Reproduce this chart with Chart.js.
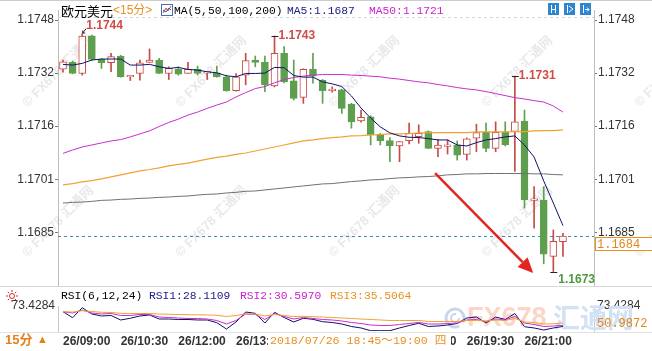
<!DOCTYPE html>
<html>
<head>
<meta charset="utf-8">
<script src="https://cdn.jsdelivr.net/npm/chart.js@4/dist/chart.umd.min.js"></script>
<style>
html, body { margin: 0; padding: 0; background: #fff; }
#wrap { position: relative; width: 652px; height: 351px; overflow: hidden; }
#main { position: absolute; left: 0; top: 0; }
#rsi { position: absolute; left: 0; top: 287px; }
</style>
</head>
<body>
<div id="wrap">
  <canvas id="main" width="652" height="287"></canvas>
  <canvas id="rsi" width="652" height="64"></canvas>
</div>
<script>
// 15 min candles, EUR/USD, 26/09:00 onwards
const timeLabels = ['26/09:00', '26/10:30', '26/12:00', '26/13:30', '26/15:00', '26/16:30', '26/18:00', '26/19:30', '26/21:00'];
const timeTickIdx = [0, 6, 12, 18, 24, 30, 36, 42, 48];
const priceTicks = [1.1748, 1.17322, 1.17164, 1.17006, 1.16848];

const opens = [1.17334, 1.17354, 1.17321, 1.17433, 1.17363, 1.17353, 1.17373, 1.17311, 1.17321, 1.17354,
  1.17361, 1.17321, 1.17334, 1.17321, 1.17333, 1.17322, 1.17323, 1.17311, 1.17270, 1.17316,
  1.17361, 1.17354, 1.17284, 1.17381, 1.17299, 1.17250, 1.17334, 1.17301, 1.17270, 1.17272,
  1.17230, 1.17180, 1.17192, 1.17140, 1.17121, 1.17105, 1.17121, 1.17133, 1.17148, 1.17098,
  1.17104, 1.17108, 1.17080, 1.17128, 1.17146, 1.17098, 1.17146, 1.17148, 1.17179, 1.16943,
  1.16944, 1.16776, 1.16820];
const closes = [1.17356, 1.17321, 1.17432, 1.17363, 1.17353, 1.17371, 1.17311, 1.17313, 1.17353, 1.17361,
  1.17321, 1.17336, 1.17319, 1.17333, 1.17321, 1.17324, 1.17311, 1.17270, 1.17311, 1.17359,
  1.17354, 1.17287, 1.17381, 1.17296, 1.17247, 1.17333, 1.17313, 1.17270, 1.17272, 1.17217,
  1.17177, 1.17190, 1.17138, 1.17121, 1.17105, 1.17118, 1.17143, 1.17143, 1.17098, 1.17108,
  1.17105, 1.17078, 1.17126, 1.17145, 1.17098, 1.17146, 1.17108, 1.17177, 1.16944, 1.16945,
  1.16783, 1.16821, 1.16837];
const highs = [1.17361, 1.17358, 1.17440, 1.17435, 1.17365, 1.17381, 1.17375, 1.17315, 1.17361, 1.17394,
  1.17366, 1.17341, 1.17341, 1.17354, 1.17343, 1.17324, 1.17343, 1.17316, 1.17321, 1.17381,
  1.17373, 1.17373, 1.17433, 1.17401, 1.17361, 1.17335, 1.17381, 1.17303, 1.17281, 1.17274,
  1.17232, 1.17212, 1.17195, 1.17142, 1.17130, 1.17118, 1.17173, 1.17168, 1.17150, 1.17125,
  1.17123, 1.17120, 1.17129, 1.17170, 1.17173, 1.17177, 1.17177, 1.17313, 1.17212, 1.16984,
  1.16984, 1.16855, 1.16845];
const lows = [1.17325, 1.17320, 1.17316, 1.17360, 1.17336, 1.17326, 1.17310, 1.17300, 1.17301, 1.17354,
  1.17321, 1.17303, 1.17316, 1.17321, 1.17316, 1.17303, 1.17310, 1.17268, 1.17268, 1.17287,
  1.17341, 1.17267, 1.17281, 1.17293, 1.17242, 1.17232, 1.17292, 1.17232, 1.17265, 1.17202,
  1.17158, 1.17176, 1.17108, 1.17108, 1.17058, 1.17058, 1.17111, 1.17113, 1.17097, 1.17073,
  1.17081, 1.17063, 1.17063, 1.17088, 1.17088, 1.17088, 1.17105, 1.17029, 1.16920, 1.16860,
  1.16754, 1.16731, 1.16776];

const ma5 = [1.17348, 1.17346, 1.17351, 1.17361, 1.17364, 1.17364, 1.17364, 1.17346, 1.17346, 1.17348,
  1.17341, 1.17336, 1.17339, 1.17333, 1.17331, 1.17326, 1.17323, 1.17314, 1.17311, 1.17321,
  1.17321, 1.17322, 1.17339, 1.17338, 1.17315, 1.17310, 1.17310, 1.17296, 1.17290, 1.17282,
  1.17254, 1.17218, 1.17188, 1.17162, 1.17144, 1.17135, 1.17131, 1.17130, 1.17127, 1.17123,
  1.17123, 1.17108, 1.17105, 1.17115, 1.17123, 1.17127, 1.17132, 1.17135, 1.17108, 1.17072,
  1.17001, 1.16935, 1.16868];
const ma50 = [1.17083, 1.17093, 1.17102, 1.17108, 1.17114, 1.17120, 1.17124, 1.17132, 1.17141, 1.17150,
  1.17163, 1.17175, 1.17185, 1.17197, 1.17206, 1.17217, 1.17227, 1.17236, 1.17251, 1.17264,
  1.17276, 1.17282, 1.17293, 1.17303, 1.17309, 1.17313, 1.17316, 1.17318, 1.17318, 1.17318,
  1.17316, 1.17315, 1.17313, 1.17311, 1.17307, 1.17304, 1.17300, 1.17296, 1.17293, 1.17288,
  1.17284, 1.17279, 1.17275, 1.17272, 1.17267, 1.17261, 1.17255, 1.17249, 1.17245, 1.17240,
  1.17236, 1.17224, 1.17206];
const ma100 = [1.16989, 1.16993, 1.16998, 1.17002, 1.17007, 1.17013, 1.17019, 1.17025, 1.17031, 1.17035,
  1.17040, 1.17046, 1.17050, 1.17054, 1.17060, 1.17066, 1.17071, 1.17075, 1.17080, 1.17084,
  1.17090, 1.17096, 1.17102, 1.17108, 1.17114, 1.17120, 1.17123, 1.17127, 1.17130, 1.17132,
  1.17135, 1.17136, 1.17138, 1.17139, 1.17141, 1.17141, 1.17142, 1.17144, 1.17144, 1.17145,
  1.17145, 1.17145, 1.17145, 1.17147, 1.17147, 1.17147, 1.17147, 1.17148, 1.17148, 1.17150,
  1.17151, 1.17151, 1.17153];
const ma200 = [1.16935, 1.16937, 1.16938, 1.16940, 1.16943, 1.16944, 1.16946, 1.16947, 1.16949, 1.16950,
  1.16952, 1.16953, 1.16955, 1.16956, 1.16959, 1.16961, 1.16962, 1.16965, 1.16967, 1.16970,
  1.16971, 1.16974, 1.16977, 1.16980, 1.16983, 1.16986, 1.16989, 1.16992, 1.16993, 1.16996,
  1.16999, 1.17001, 1.17004, 1.17005, 1.17008, 1.17010, 1.17011, 1.17013, 1.17014, 1.17016,
  1.17019, 1.17020, 1.17022, 1.17022, 1.17023, 1.17023, 1.17023, 1.17023, 1.17023, 1.17022,
  1.17022, 1.17020, 1.17019];

const rsi1 = [60.8, 47.5, 69.7, 55.7, 51.3, 52.4, 42.4, 46.2, 51.3, 53.5,
  44.6, 44.6, 43.5, 43.5, 42.4, 42.4, 36.4, 22.4, 38.0, 60.1,
  57.2, 35.7, 59.5, 47.9, 38.0, 46.2, 43.9, 38.6, 36.9, 33.5,
  28.0, 24.7, 18.7, 18.7, 18.7, 24.7, 30.2, 35.1, 28.0, 29.1,
  31.3, 34.6, 46.8, 49.0, 35.7, 49.0, 43.5, 56.8, 27.5, 24.7,
  20.2, 24.7, 28.1109];
const rsi2 = [60.8, 57.9, 64.6, 57.9, 55.7, 56.8, 52.4, 52.4, 54.6, 54.6,
  49.0, 47.9, 46.8, 45.7, 45.7, 44.6, 41.3, 33.5, 41.3, 55.7,
  54.6, 43.5, 56.8, 50.2, 44.6, 47.9, 45.7, 43.5, 42.4, 40.2,
  36.9, 34.6, 31.3, 30.2, 30.2, 32.4, 34.6, 36.9, 33.5, 33.5,
  34.6, 35.7, 42.4, 43.5, 39.1, 44.6, 42.4, 50.2, 35.7, 32.4,
  28.0, 29.1, 30.5970];
const rsi3 = [60.8, 60.1, 63.0, 61.2, 59.5, 59.0, 57.2, 56.8, 56.8, 56.8,
  55.7, 55.0, 54.6, 54.1, 53.9, 53.5, 52.8, 50.2, 52.4, 55.7,
  55.7, 51.3, 54.6, 52.4, 50.2, 50.6, 49.7, 49.0, 47.9, 46.8,
  45.7, 44.6, 43.5, 42.4, 41.3, 41.3, 41.3, 41.3, 39.1, 39.1,
  39.1, 39.1, 41.3, 41.3, 40.2, 42.4, 41.3, 45.7, 38.0, 36.9,
  33.5, 34.0, 35.5064];
const rsiTicks = [73.4284];
const rsiSide = 50.9872;

const highMarks = [2, 22, 47];
const lowMarks = [51];
const arrowFrom = [38.7, 1.17024];
const arrowTo = [48.9, 1.16727];

Chart.defaults.font.family = '"Liberation Sans", "Noto Sans CJK SC", sans-serif';

const N = opens.length;
const idx = opens.map((_, i) => i);
const up = idx.map(i => closes[i] >= opens[i]);
const RED = '#c54b45', GREEN = '#5e9f4f';
const candleColor = up.map(u => u ? RED : GREEN);
const X_MIN = -0.52, X_MAX = 55.23;
const MONO = '"Liberation Mono", "Noto Sans CJK SC", monospace';
const ORANGE = '#e8901e';

function zeroPad(s) {
  s.paddingTop = 0; s.paddingBottom = 0; s.paddingLeft = 0; s.paddingRight = 0;
}
const pts = arr => idx.map(i => ({x: i, y: arr[i]}));

function priceAxis(pos) {
  return {
    type: 'linear', position: pos, min: 1.16685, max: 1.17510,
    afterBuildTicks: s => { s.ticks = priceTicks.map(v => ({value: v})); },
    afterFit: s => { s.width = 58; zeroPad(s); },
    ticks: {autoSkip: false, padding: 1, color: '#333', font: {size: 12}, callback: v => v.toFixed(4)},
    grid: {drawOnChartArea: false, drawTicks: true, tickLength: 3, tickColor: '#777'},
    border: {display: true, color: '#bdbdbd', dash: [1, 2]}
  };
}

const mainDecor = {
  id: 'mainDecor',
  beforeDatasetsDraw(chart) {
    const ctx = chart.ctx, y = chart.scales.y, area = chart.chartArea;
    ctx.save();
    ctx.font = 'bold 13px "Liberation Sans", "Noto Sans CJK SC"';
    ctx.fillStyle = 'rgba(150,150,150,0.22)';
    ctx.textBaseline = 'middle';
    [105, 255].forEach(wy => [25, 178, 331, 484, 637].forEach(wx => {
      ctx.save();
      ctx.translate(wx, wy);
      ctx.rotate(-Math.PI / 4);
      ctx.fillText('© FX678 汇通网', 0, 0);
      ctx.restore();
    }));
    const cy = Math.round(y.getPixelForValue(closes[N - 1])) + 0.5;
    ctx.strokeStyle = '#3b8ec2';
    ctx.lineWidth = 1;
    ctx.setLineDash([3, 3]);
    ctx.beginPath(); ctx.moveTo(area.left, cy); ctx.lineTo(area.right, cy); ctx.stroke();
    ctx.restore();
  },
  afterDraw(chart) {
    const ctx = chart.ctx, x = chart.scales.x, y = chart.scales.y;
    ctx.save();
    // frame lines
    ctx.lineWidth = 1;
    ctx.strokeStyle = '#cccccc';
    ctx.beginPath(); ctx.moveTo(0, 0.5); ctx.lineTo(652, 0.5); ctx.stroke();
    ctx.strokeStyle = '#d8d8d8';
    ctx.beginPath(); ctx.moveTo(0, 286.5); ctx.lineTo(652, 286.5); ctx.stroke();
    ctx.setLineDash([3, 3]);
    ctx.strokeStyle = '#d6d6d6';
    ctx.beginPath(); ctx.moveTo(58, 17.5); ctx.lineTo(594, 17.5); ctx.stroke();
    ctx.setLineDash([]);

    // header
    ctx.textBaseline = 'middle';
    ctx.font = '13px "Noto Sans CJK SC"';
    ctx.fillStyle = '#000';
    ctx.fillText('欧元美元', 61, 11);
    ctx.font = '12px "Liberation Sans", "Noto Sans CJK SC"';
    ctx.fillStyle = ORANGE;
    ctx.fillText('<15分>', 113, 11);
    ctx.fillStyle = '#fff';
    ctx.fillRect(161, 4, 12, 12);
    ctx.strokeStyle = '#4a6db5';
    ctx.strokeRect(161.5, 4.5, 11, 11);
    ctx.strokeStyle = '#d04040';
    ctx.beginPath(); ctx.moveTo(163, 13); ctx.lineTo(166, 8); ctx.lineTo(168, 11); ctx.lineTo(171, 6); ctx.stroke();
    ctx.strokeStyle = '#3050a0';
    ctx.beginPath(); ctx.moveTo(163, 10); ctx.lineTo(166, 12); ctx.lineTo(169, 8); ctx.lineTo(171, 10); ctx.stroke();
    ctx.font = '11.3px ' + MONO;
    ctx.fillStyle = '#000';
    ctx.fillText('MA(5,50,100,200)', 174, 11);
    ctx.fillStyle = '#1a1a80';
    ctx.fillText('MA5:' + ma5[N - 1].toFixed(4), 287, 11);
    ctx.fillStyle = '#cc22cc';
    ctx.fillText('MA50:' + ma50[N - 1].toFixed(4), 369, 11);

    // toolbar icons
    [548, 564, 580].forEach((ix, k) => {
      ctx.fillStyle = '#2f86d0';
      ctx.fillRect(ix, 3, 11, 12);
      ctx.strokeStyle = '#fff';
      ctx.beginPath();
      ctx.moveTo(ix + 3.5, 5); ctx.lineTo(ix + 3.5, 13);
      if (k === 0) { ctx.moveTo(ix + 7.5, 5); ctx.lineTo(ix + 7.5, 13); ctx.moveTo(ix + 3, 9.5); ctx.lineTo(ix + 8, 9.5); }
      if (k === 1) { ctx.moveTo(ix + 5, 6); ctx.lineTo(ix + 9, 9); ctx.lineTo(ix + 5, 12); }
      if (k === 2) { ctx.moveTo(ix + 5, 9.5); ctx.lineTo(ix + 9, 9.5); ctx.moveTo(ix + 7, 7.5); ctx.lineTo(ix + 9, 9.5); ctx.lineTo(ix + 7, 11.5); }
      ctx.stroke();
    });

    // high / low marks
    ctx.font = 'bold 12px "Liberation Sans"';
    ctx.lineWidth = 1;
    highMarks.forEach((i, k) => {
      const px = x.getPixelForValue(i), py = y.getPixelForValue(highs[i]);
      ctx.strokeStyle = '#222';
      ctx.beginPath();
      if (k === 0) {
        ctx.moveTo(px + 4, py - 5); ctx.lineTo(px + 0.5, py - 0.5);
        ctx.moveTo(px + 0.5, py - 3); ctx.lineTo(px + 0.5, py - 0.5); ctx.lineTo(px + 3, py - 0.5);
      } else {
        ctx.moveTo(px - 3, Math.round(py) + 0.5); ctx.lineTo(px + 4, Math.round(py) + 0.5);
      }
      ctx.stroke();
      ctx.fillStyle = '#d24a45';
      ctx.fillText(highs[i].toFixed(4), px + 4, k === 0 ? py - 7.5 : py);
    });
    lowMarks.forEach(i => {
      const px = x.getPixelForValue(i), py = y.getPixelForValue(lows[i]);
      ctx.strokeStyle = '#222';
      ctx.beginPath(); ctx.moveTo(px - 3, Math.round(py) + 0.5); ctx.lineTo(px + 4, Math.round(py) + 0.5); ctx.stroke();
      ctx.fillStyle = '#4e9a3e';
      ctx.fillText(lows[i].toFixed(4), px + 5, py + 8);
    });

    // red arrow
    const ax0 = x.getPixelForValue(arrowFrom[0]), ay0 = y.getPixelForValue(arrowFrom[1]);
    const ax1 = x.getPixelForValue(arrowTo[0]), ay1 = y.getPixelForValue(arrowTo[1]);
    const ang = Math.atan2(ay1 - ay0, ax1 - ax0);
    const hl = 15, hw = 7;
    const bx = ax1 - hl * Math.cos(ang), by = ay1 - hl * Math.sin(ang);
    ctx.strokeStyle = '#e2261f';
    ctx.fillStyle = '#e2261f';
    ctx.lineWidth = 2.5;
    ctx.beginPath(); ctx.moveTo(ax0, ay0); ctx.lineTo(bx, by); ctx.stroke();
    ctx.beginPath();
    ctx.moveTo(ax1, ay1);
    ctx.lineTo(bx + hw * Math.sin(ang), by - hw * Math.cos(ang));
    ctx.lineTo(bx - hw * Math.sin(ang), by + hw * Math.cos(ang));
    ctx.closePath(); ctx.fill();

    // last price box
    const cy = Math.round(y.getPixelForValue(closes[N - 1]));
    ctx.lineWidth = 1;
    ctx.fillStyle = '#fff';
    ctx.fillRect(595, cy + 1, 60, 13);
    ctx.strokeStyle = ORANGE;
    ctx.strokeRect(595.5, cy + 1.5, 60, 13);
    ctx.font = '12px ' + MONO;
    ctx.fillStyle = '#e0861a';
    ctx.fillText(closes[N - 1].toFixed(4), 597, cy + 8.5);
    ctx.restore();
  }
};

new Chart(document.getElementById('main'), {
  type: 'bar',
  data: {
    datasets: [
      {type: 'line', data: pts(ma5), borderColor: '#10106a', borderWidth: 1, pointRadius: 0, order: 1},
      {type: 'line', data: pts(ma50), borderColor: '#cc2ccc', borderWidth: 1, pointRadius: 0, order: 1},
      {type: 'line', data: pts(ma100), borderColor: '#f0a232', borderWidth: 1.2, pointRadius: 0, order: 1},
      {type: 'line', data: pts(ma200), borderColor: '#707070', borderWidth: 1, pointRadius: 0, order: 1},
      {
        data: idx.map(i => ({x: i, y: [opens[i], closes[i]]})),
        backgroundColor: up.map(u => u ? '#fff' : GREEN),
        borderColor: candleColor, borderWidth: 1, borderSkipped: false,
        barThickness: 7, minBarLength: 1.5, grouped: false, order: 2
      },
      {
        data: idx.map(i => ({x: i, y: [lows[i], highs[i]]})),
        backgroundColor: candleColor, borderWidth: 0,
        barThickness: 1, grouped: false, order: 3
      }
    ]
  },
  options: {
    responsive: false,
    animation: false,
    events: [],
    layout: {padding: {top: 10, bottom: 0, left: 0, right: 0}},
    plugins: {legend: {display: false}, tooltip: {enabled: false}},
    scales: {
      x: {type: 'linear', min: X_MIN, max: X_MAX, offset: false, display: false},
      y: priceAxis('left'),
      y2: priceAxis('right')
    }
  },
  plugins: [mainDecor]
});

function rsiAxis(pos) {
  return {
    type: 'linear', position: pos, min: 18, max: 73.4284,
    afterBuildTicks: s => { s.ticks = rsiTicks.map(v => ({value: v})); },
    afterFit: s => { s.width = 58; zeroPad(s); },
    ticks: {autoSkip: false, padding: 3, color: '#333', font: {size: 12}, callback: v => v.toFixed(4)},
    grid: {drawOnChartArea: false, drawTicks: false},
    border: {display: true, color: '#c8c8c8'}
  };
}

const rsiDecor = {
  id: 'rsiDecor',
  beforeDatasetsDraw(chart) {
    const ctx = chart.ctx;
    ctx.save();
    ctx.strokeStyle = '#c9d6ea';
    ctx.lineWidth = 3;
    ctx.beginPath(); ctx.arc(455, 31, 9, 0.35 * Math.PI, 2.15 * Math.PI); ctx.stroke();
    ctx.lineWidth = 2;
    ctx.beginPath(); ctx.arc(455, 31, 4, 0, 1.6 * Math.PI); ctx.stroke();
    ctx.textBaseline = 'middle';
    ctx.font = 'bold 27px "Liberation Sans"';
    ctx.fillStyle = '#fbd6c8';
    ctx.fillText('FX678', 467, 32);
    ctx.font = 'bold 27px "Noto Sans CJK SC"';
    ctx.fillStyle = '#d2e1f4';
    ctx.fillText('汇通网', 553, 31);
    ctx.restore();
  },
  afterDraw(chart) {
    const ctx = chart.ctx;
    ctx.save();
    ctx.textBaseline = 'middle';
    // indicator header
    ctx.strokeStyle = '#d03030';
    ctx.lineWidth = 1;
    ctx.beginPath(); ctx.arc(12, 9, 2.5, 0, 2 * Math.PI); ctx.stroke();
    ctx.beginPath();
    for (let k = 0; k < 8; k++) {
      const a = k * Math.PI / 4;
      ctx.moveTo(12 + 4 * Math.cos(a), 9 + 4 * Math.sin(a));
      ctx.lineTo(12 + 6 * Math.cos(a), 9 + 6 * Math.sin(a));
    }
    ctx.stroke();
    ctx.font = '11.3px ' + MONO;
    ctx.fillStyle = '#000';
    ctx.fillText('RSI(6,12,24)', 61, 9);
    ctx.fillStyle = '#1a1a80';
    ctx.fillText('RSI1:' + rsi1[N - 1].toFixed(4), 149, 9);
    ctx.fillStyle = '#cc22cc';
    ctx.fillText('RSI2:' + rsi2[N - 1].toFixed(4), 240, 9);
    ctx.fillStyle = ORANGE;
    ctx.fillText('RSI3:' + rsi3[N - 1].toFixed(4), 330, 9);

    ctx.font = '12px ' + MONO;
    ctx.fillStyle = '#e0861a';
    ctx.fillText(rsiSide.toFixed(4), 597, 37);

    ctx.strokeStyle = '#e2e2e2';
    ctx.beginPath(); ctx.moveTo(0, 45.5); ctx.lineTo(652, 45.5); ctx.stroke();

    // period tag and cursor time
    ctx.font = 'bold 13px "Liberation Sans", "Noto Sans CJK SC"';
    ctx.fillStyle = '#e8801a';
    ctx.fillText('15分', 5, 53.5);
    ctx.font = '11px "Liberation Sans", "Noto Sans CJK SC"';
    ctx.fillText('▲', 37, 53);
    ctx.fillStyle = '#fff';
    ctx.fillRect(268, 46, 183, 18);
    ctx.font = '11.6px ' + MONO;
    ctx.fillStyle = ORANGE;
    ctx.fillText('2018/07/26 18:45～19:00 四', 270, 53.5);
    ctx.restore();
  }
};

new Chart(document.getElementById('rsi'), {
  type: 'line',
  data: {
    datasets: [
      {data: pts(rsi3), borderColor: '#f0a232', borderWidth: 1, pointRadius: 0},
      {data: pts(rsi2), borderColor: '#cc2ccc', borderWidth: 1, pointRadius: 0},
      {data: pts(rsi1), borderColor: '#10106a', borderWidth: 1, pointRadius: 0}
    ]
  },
  options: {
    responsive: false,
    animation: false,
    events: [],
    layout: {padding: {top: 19, bottom: 0, left: 0, right: 0}},
    plugins: {legend: {display: false}, tooltip: {enabled: false}},
    scales: {
      x: {
        type: 'linear', min: X_MIN, max: X_MAX, offset: false,
        afterBuildTicks: s => { s.ticks = timeTickIdx.map(v => ({value: v})); },
        afterFit: s => { s.height = 20; zeroPad(s); },
        ticks: {
          autoSkip: false, maxRotation: 0, align: 'start', padding: 3,
          color: '#333', font: {size: 12, weight: 'bold'},
          callback: v => timeLabels[timeTickIdx.indexOf(v)]
        },
        grid: {display: false, drawTicks: false},
        border: {display: false}
      },
      y: rsiAxis('left'),
      y2: rsiAxis('right')
    }
  },
  plugins: [rsiDecor]
});
</script>
</body>
</html>
